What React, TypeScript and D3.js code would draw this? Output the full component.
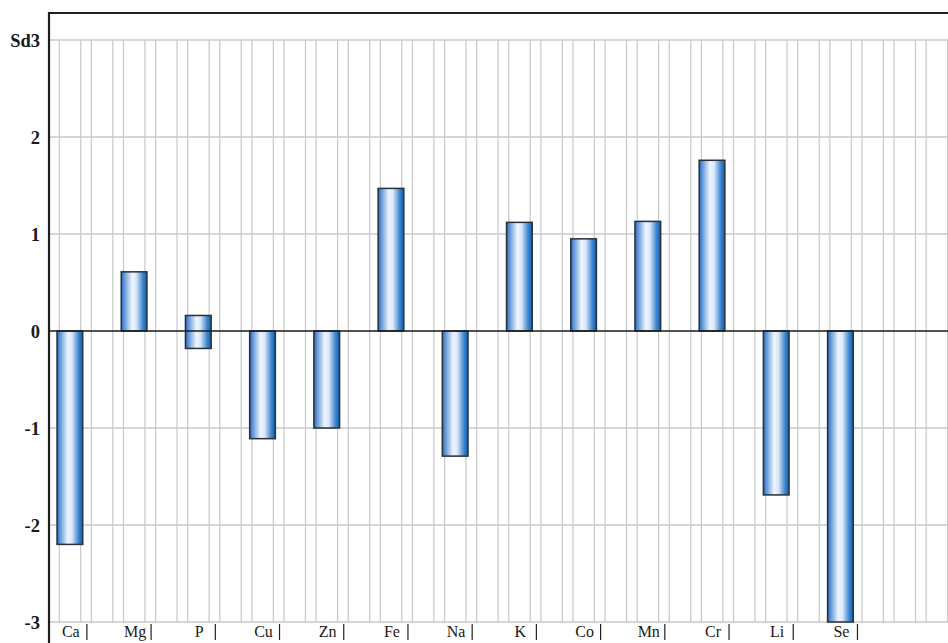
import React from "react";
import * as d3 from "d3";

const categories = ["Ca", "Mg", "P", "Cu", "Zn", "Fe", "Na", "K", "Co", "Mn", "Cr", "Li", "Se"];
const barStart = [0, 0, -0.18, 0, 0, 0, 0, 0, 0, 0, 0, 0, 0];
const barEnd = [-2.2, 0.61, 0.16, -1.11, -1.0, 1.47, -1.29, 1.12, 0.95, 1.13, 1.76, -1.69, -3.0];
const yTicks = [3, 2, 1, 0, -1, -2, -3];
const yTickLabels = ["Sd3", "2", "1", "0", "-1", "-2", "-3"];

const W = 948;
const H = 643;
const left = 49;
const right = 948;
const top = 13;

export default function App() {
  const slots = [...categories, "__empty"];
  const x = d3.scaleBand<string>().domain(slots).range([left, right]).paddingInner(0).paddingOuter(0);
  const bw = x.bandwidth();
  const y = d3.scaleLinear().domain([-3, 3]).range([622, 40]);
  const hb = bw / 2;
  const vGrid: number[] = [];
  for (let k = 0; k < slots.length * 2; k++) {
    const h0 = left + k * hb;
    vGrid.push(h0 + hb * 0.32);
    vGrid.push(h0 + hb - 0.4);
  }
  const serif = "'Liberation Serif', 'DejaVu Serif', serif";
  return (
    <svg width={W} height={H} style={{ position: "absolute", left: 0, top: 0, background: "#fff" }}>
      <defs>
        <linearGradient id="barGrad" x1="0" x2="1" y1="0" y2="0">
          <stop offset="0%" stopColor="#2a68b8" />
          <stop offset="14%" stopColor="#6a9ddb" />
          <stop offset="42%" stopColor="#eef5fd" />
          <stop offset="58%" stopColor="#dbe8f9" />
          <stop offset="84%" stopColor="#3f86cf" />
          <stop offset="100%" stopColor="#0a5fa9" />
        </linearGradient>
      </defs>
      {vGrid.filter((v) => v < right).map((v, i) => (
        <line key={"vg" + i} x1={v} x2={v} y1={y(3)} y2={y(-3)} stroke="#c8c8c8" strokeWidth={1.2} />
      ))}
      {yTicks.filter((t) => t !== 0).map((t) => (
        <line key={"hg" + t} x1={left} x2={right} y1={y(t)} y2={y(t)} stroke="#c8c8c8" strokeWidth={1.5} />
      ))}
      {categories.map((c, i) => {
        const a = y(barStart[i]);
        const b = y(barEnd[i]);
        const x0 = (x(c) as number) + bw * 0.125;
        return (
          <rect
            key={c}
            x={x0}
            y={Math.min(a, b)}
            width={bw * 0.4}
            height={Math.abs(b - a)}
            fill="url(#barGrad)"
            stroke="#27313b"
            strokeWidth={1.5}
          />
        );
      })}
      <line x1={left} x2={right} y1={y(0)} y2={y(0)} stroke="#1a1a1a" strokeWidth={1.6} />
      <line x1={left} x2={right} y1={top} y2={top} stroke="#1f1f1f" strokeWidth={2} />
      <line x1={left} x2={left} y1={top - 1} y2={H} stroke="#1f1f1f" strokeWidth={2.2} />
      {yTicks.map((t, i) => (
        <text
          key={"yl" + t}
          x={40}
          y={y(t) + 6.5}
          textAnchor="end"
          fontFamily={serif}
          fontWeight="bold"
          fontSize={18.5}
          fill="#1a1a1a"
        >
          {yTickLabels[i]}
        </text>
      ))}
      {categories.map((c) => {
        const bx = x(c) as number;
        const tx = bx + bw * 0.59;
        return (
          <g key={"xl" + c}>
            <text x={bx + bw * 0.34} y={637} textAnchor="middle" fontFamily={serif} fontSize={16} fill="#1a1a1a">
              {c}
            </text>
            <line x1={tx} x2={tx} y1={624} y2={640} stroke="#222" strokeWidth={1.2} />
          </g>
        );
      })}
    </svg>
  );
}
